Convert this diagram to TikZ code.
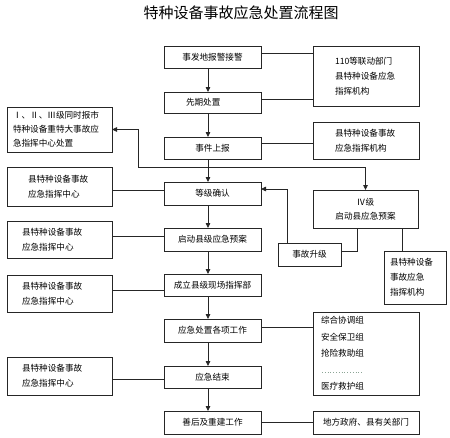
\documentclass[tikz,border=0pt]{standalone}
\usepackage{fontspec}
\newfontfamily\cjk{Noto Sans CJK SC}
\usetikzlibrary{arrows.meta,calc}
\begin{document}
\begin{tikzpicture}[x=1pt,y=-1pt,
  every node/.style={font=\cjk\fontsize{8.6}{15}\selectfont, text=black},
  box/.style={draw=black!85, line width=0.8pt, inner sep=0pt, outer sep=0pt},
  cbox/.style={box, minimum width=97pt, align=center},
  ln/.style={draw=black!85, line width=0.8pt},
  arr/.style={-{Triangle[length=5pt,width=4.5pt]}}]
\useasboundingbox (0,0) rectangle (450,437);
\fill[white] (0,0) rectangle (450,437);
% title
\node[font=\cjk\fontsize{15}{18}\selectfont] (T) at (241,13) {特种设备事故应急处置流程图};
% centre column
\node[cbox, minimum height=22pt] (B1) at (212.5,57) {事发地报警接警};
\node[box, minimum height=21pt, inner xsep=22pt, text width=53pt, align=left] (B2) at (212.5,102.5) {先期处置};
\node[cbox, minimum height=22pt] (B3) at (212.5,148) {事件上报};
\node[cbox, minimum height=23pt] (B4) at (212.5,193.5) {等级确认};
\node[cbox, minimum height=23pt] (B5) at (212.5,239.5) {启动县级应急预案};
\node[cbox, minimum height=22pt] (B6) at (212.5,285) {成立县级现场指挥部};
\node[cbox, minimum height=23pt] (B7) at (212.5,330.5) {应急处置各项工作};
\node[cbox, minimum height=22pt] (B8) at (212.5,377) {应急结束};
\node[cbox, minimum height=23pt] (B9) at (212.5,422.5) {善后及重建工作};
% left column
\node[box, anchor=north west, minimum height=45pt, inner xsep=6pt, text width=93pt, align=left,
      font=\cjk\fontsize{8.6}{14}\selectfont] (L1) at (7,107) {Ⅰ、Ⅱ、Ⅲ级同时报市\\特种设备重特大事故应\\急指挥中心处置};
\node[box, anchor=north west, minimum height=39pt, inner xsep=21pt, text width=63pt, align=left] (L2) at (7,167) {县特种设备事故\\应急指挥中心};
\node[box, anchor=north west, minimum height=37pt, inner xsep=15pt, text width=75pt, align=left] (L3) at (7,221) {县特种设备事故\\应急指挥中心};
\node[box, anchor=north west, minimum height=37pt, inner xsep=15pt, text width=75pt, align=left] (L4) at (7,275) {县特种设备事故\\应急指挥中心};
\node[box, anchor=north west, minimum height=38pt, inner xsep=15pt, text width=75pt, align=left] (L5) at (7,357) {县特种设备事故\\应急指挥中心};
% right column
\node[box, anchor=north west, minimum height=60pt, inner xsep=22pt, text width=62pt, align=left] (R1) at (313,46) {110等联动部门\\县特种设备应急\\指挥机构};
\node[box, anchor=north west, minimum height=37pt, inner xsep=22pt, text width=62pt, align=left] (R2) at (313,122) {县特种设备事故\\应急指挥机构};
\node[box, minimum width=105pt, minimum height=38pt, align=center,
      font=\cjk\fontsize{8.6}{14}\selectfont] (R3) at (365.5,209) {Ⅳ级\\启动县应急预案};
\node[box, minimum width=63pt, minimum height=23pt, align=center] (UP) at (309.5,254.5) {事故升级};
\node[box, anchor=north west, minimum height=53pt, inner xsep=6pt, text width=50pt, align=left] (R4) at (384,251) {县特种设备\\事故应急\\指挥机构};
\node[box, anchor=north west, minimum height=83pt, inner xsep=8pt, text width=90pt, align=left,
      font=\cjk\fontsize{8.6}{16.5}\selectfont] (R5) at (313,312) {综合协调组\\安全保卫组\\抢险救助组\\\mbox{}\\医疗救护组};
\node[box, minimum width=106pt, minimum height=23pt, align=center] (R6) at (366,422.5) {地方政府、县有关部门};
\draw[dotted, line width=0.8pt, color={rgb,255:red,140;green,165;blue,150}]
  ($(R5.north west)+(9,60)$) coordinate (d1) -- ($(R5.north west)+(50,60)$) coordinate (d2);
% horizontal links
\draw[ln] ([yshift=4pt]B1.east) -- ([yshift=4pt]B1.east -| R1.west);
\draw[ln] ([yshift=3.5pt]B2.east) -- ([yshift=3.5pt]B2.east -| R1.west);
\draw[ln] ([yshift=5pt]B3.east) -- ([yshift=5pt]B3.east -| R2.west);
\draw[ln] ([yshift=3.5pt]B4.west) -- ([yshift=3.5pt]B4.west -| L2.east);
\draw[ln] ([yshift=3.5pt]B5.west) -- ([yshift=3.5pt]B5.west -| L3.east);
\draw[ln] ([yshift=-5pt]B6.west) -- ([yshift=-5pt]B6.west -| L4.east);
\draw[ln] ([yshift=3.5pt]B7.east) -- ([yshift=3.5pt]B7.east -| R5.west);
\draw[ln] ([yshift=-2pt]B8.west) -- ([yshift=-2pt]B8.west -| L5.east);
\draw[ln] (B9.east) -- (R6.west);
% main flow arrows
\foreach \a/\b in {B1/B2,B2/B3,B3/B4,B4/B5,B5/B6,B6/B7,B7/B8,B8/B9}
  \draw[ln,arr] ([xshift=-4.5pt]\a.south) -- ([xshift=-4.5pt]\b.north);
% branch after reporting
\coordinate (split) at (208,167);
\coordinate (jl) at (138,167);
\draw[ln,arr] (split) -- (jl) |- (L1.east);
\draw[ln,arr] (split) -| (R3.north);
% escalation loop
\draw[ln] ([xshift=-8.5pt]R3.south) |- ([yshift=3.5pt]UP.east);
\draw[ln,arr] ([xshift=-22.5pt]UP.north) |- ([yshift=4.5pt]B4.east);
\draw[ln] ([xshift=-13pt]R4.north) -- ([xshift=-13pt]R4.north |- R3.south);
\end{tikzpicture}
\end{document}
